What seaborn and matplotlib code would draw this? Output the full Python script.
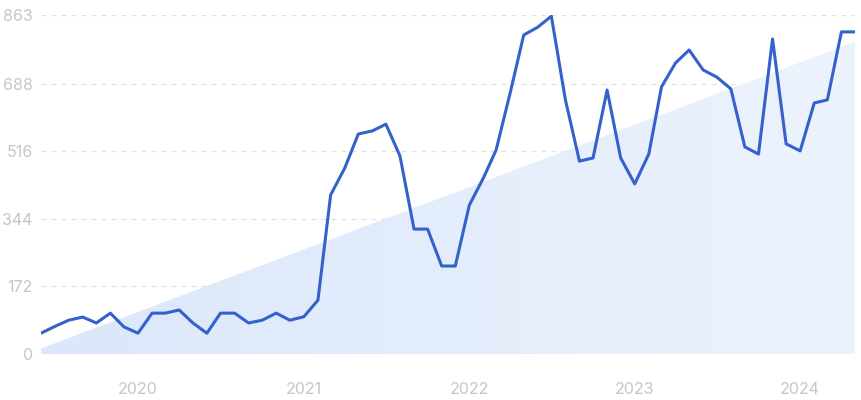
import numpy as np
import pandas as pd
import seaborn as sns
import matplotlib.pyplot as plt
import matplotlib.dates as mdates
from matplotlib.colors import LinearSegmentedColormap
from matplotlib.patches import Polygon

# monthly values, Jun 2019 .. May 2024
months = pd.date_range("2019-06-01", "2024-05-01", freq="MS")
values = [
    53, 70, 86, 94, 79, 104, 69, 53, 104, 104,
    112, 79, 53, 104, 104, 79, 86, 104, 86, 95,
    137, 405, 473, 560, 568, 585, 504, 318, 318, 224,
    224, 379, 448, 519, 664, 812, 832, 860, 647, 491,
    499, 672, 499, 433, 509, 680, 741, 774, 723, 705,
    675, 527, 509, 802, 535, 517, 639, 647, 820, 820,
]
trend_ends = [14, 795]  # trend band at first / last month
y_ticks = [0, 172, 344, 516, 688, 863]
y_max = 863

df = pd.DataFrame({"month": months, "value": values})

sns.set_theme(style="white")
plt.rcParams["font.family"] = ["Inter", "DejaVu Sans"]

fig = plt.figure(figsize=(8.62, 4.0), dpi=100)
ax = fig.add_axes([0.0476, 0.115, 0.9443, 0.8475])

# trend band with soft gradient
x0, x1 = mdates.date2num(months[0]), mdates.date2num(months[-1])
tri = Polygon([(x0, 0), (x0, trend_ends[0]), (x1, trend_ends[1]), (x1, 0)],
              closed=True, facecolor="none", edgecolor="none")
ax.add_patch(tri)
grad_cmap = LinearSegmentedColormap.from_list("band", ["#dbe7fa", "#edf3fd"])
grad = np.linspace(0, 1, 256).reshape(1, -1)
im = ax.imshow(grad, cmap=grad_cmap, extent=[x0, x1, 0, y_max],
               aspect="auto", origin="lower", zorder=1)
im.set_clip_path(tri)

sns.lineplot(data=df, x="month", y="value", ax=ax, color="#3461cc",
             linewidth=2.2, zorder=3)

ax.set_xlim(x0, x1)
ax.set_ylim(0, y_max)
ax.set_yticks(y_ticks)
ax.set_yticklabels([str(t) for t in y_ticks])
ax.xaxis.set_major_locator(mdates.YearLocator())
ax.xaxis.set_major_formatter(mdates.DateFormatter("%Y"))

for t in y_ticks[1:]:
    ax.axhline(t, color="#e2e2e2", linewidth=0.9, linestyle=(0, (4, 4)), zorder=0)
ax.axhline(0, color="#e6e8ee", linewidth=1.0, zorder=2)

for s in ax.spines.values():
    s.set_visible(False)
ax.tick_params(axis="both", length=0, labelsize=11.5, labelcolor="#c6c6c6")
ax.tick_params(axis="y", pad=6)
ax.tick_params(axis="x", pad=20)
ax.set_xlabel("")
ax.set_ylabel("")
ax.set_facecolor("none")

fig.savefig("out.png", dpi=100)
